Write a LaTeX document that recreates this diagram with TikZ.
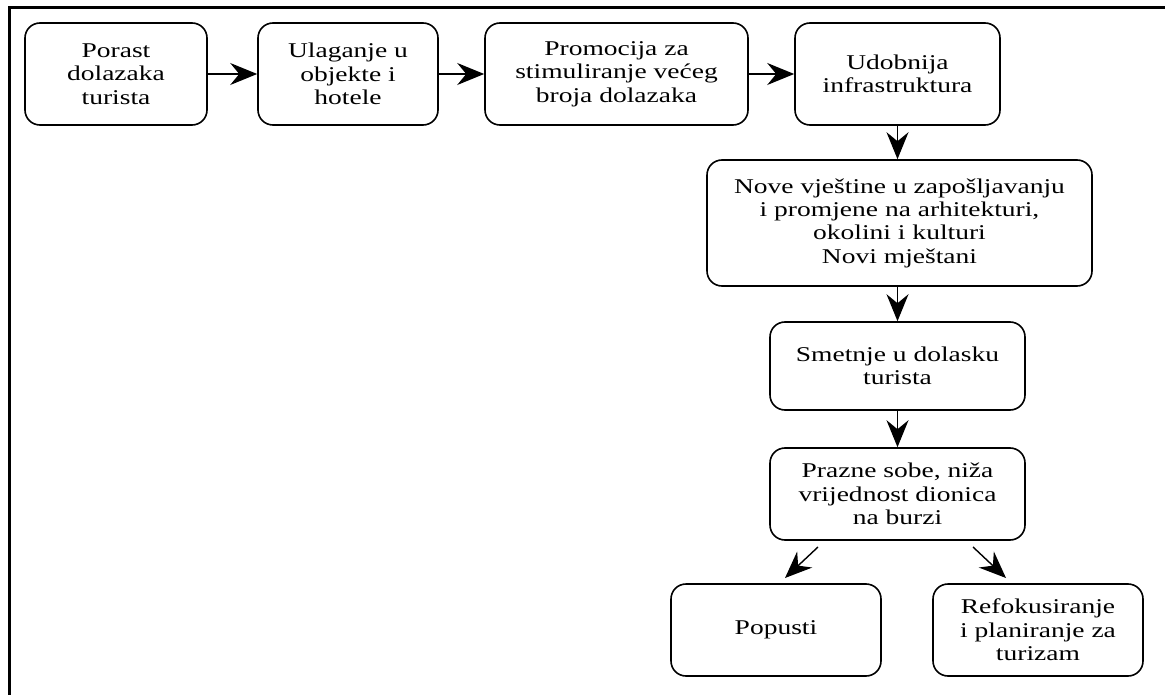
\documentclass[tikz,border=0pt]{standalone}
\usepackage{fontspec}
\setmainfont{Liberation Serif}[FakeStretch=1.31]
\usetikzlibrary{arrows.meta}
\tikzset{
  box/.style={draw=black, line width=1.6pt, rounded corners=15pt, align=center,
    inner sep=0pt, font=\fontsize{21}{23.3}\selectfont},
  arr/.style={draw=black, line width=1.4pt, -{Stealth[length=27pt,width=22pt,inset=9pt]}},
  frameline/.style={draw=black, line width=3pt}
}
\begin{document}
\begin{tikzpicture}[x=1pt,y=-1pt]
\useasboundingbox (0,0) rectangle (1165,695);
\fill[white] (0,0) rectangle (1165,695);
\draw[frameline] (9.5,700) -- (9.5,7.5) -- (1170,7.5);
\node[box, minimum width=182pt, minimum height=102pt] (b1) at (116,74) {Porast\\dolazaka\\turista};
\node[box, minimum width=180pt, minimum height=102pt] (b2) at (348,74) {Ulaganje u\\objekte i\\hotele};
\node[box, minimum width=263pt, minimum height=102pt] (b3) at (616.5,74) {Promocija za\\stimuliranje većeg\\broja dolazaka};
\node[box, minimum width=205pt, minimum height=102pt] (b4) at (897.5,74) {Udobnija\\infrastruktura};
\node[box, minimum width=385pt, minimum height=126pt] (b5) at (899.5,223) {Nove vještine u zapošljavanju\\i promjene na arhitekturi,\\okolini i kulturi\\Novi mještani};
\node[box, minimum width=255pt, minimum height=88pt] (b6) at (897.5,366) {Smetnje u dolasku\\turista};
\node[box, minimum width=255pt, minimum height=92pt] (b7) at (897.5,494) {Prazne sobe, niža\\vrijednost dionica\\na burzi};
\node[box, minimum width=210pt, minimum height=92pt] (b8) at (776,630) {Popusti};
\node[box, minimum width=210pt, minimum height=92pt] (b9) at (1038,630) {Refokusiranje\\i planiranje za\\turizam};
\coordinate (s8) at (818,547);
\coordinate (e8) at (785,578);
\coordinate (s9) at (973,547);
\coordinate (e9) at (1006,578);
\draw[arr] (b1) -- (b2);
\draw[arr] (b2) -- (b3);
\draw[arr] (b3) -- (b4);
\draw[arr] (b4.south) -- (b4.south |- b5.north);
\draw[arr] (b6.north |- b5.south) -- (b6.north);
\draw[arr] (b6.south) -- (b7.north);
\draw[arr] (s8) -- (e8);
\draw[arr] (s9) -- (e9);
\end{tikzpicture}
\end{document}
